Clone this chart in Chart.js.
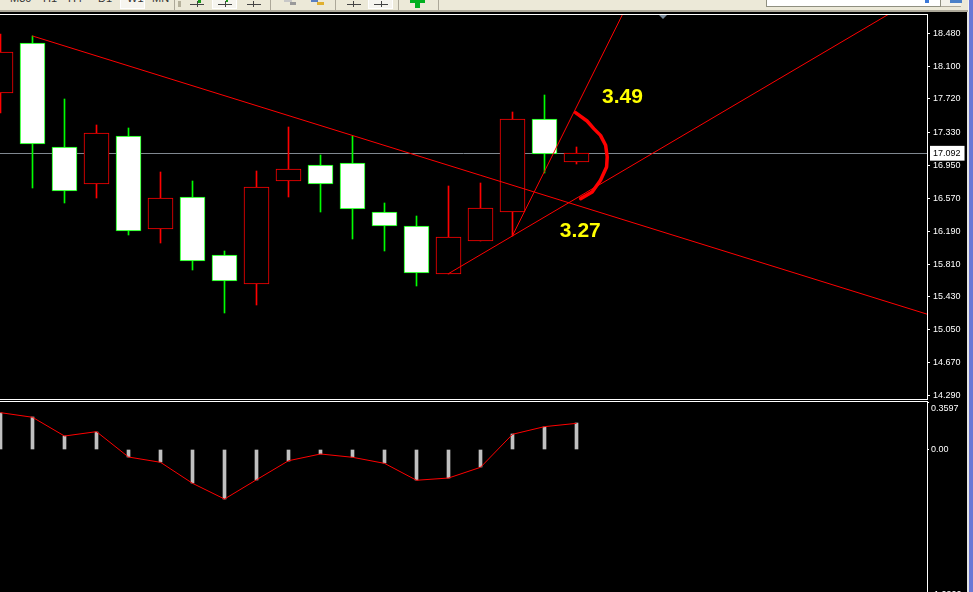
<!DOCTYPE html>
<html>
<head>
<meta charset="utf-8">
<title>Weekly chart</title>
<script src="https://cdn.jsdelivr.net/npm/chart.js@4"></script>
<style>
  html, body { margin: 0; padding: 0; width: 973px; height: 592px; overflow: hidden; background: #000; }
  canvas { position: absolute; left: 0; display: block; }
  #mainChart { top: 15px; }
  #macdChart { top: 402px; }
  .abs { position: absolute; }
  #toolbar { position: absolute; left: 0; top: 0; width: 968px; height: 10px; background: #ece9d8; overflow: hidden; font: 11px "Liberation Sans", sans-serif; color: #333; }
  #toolbarEdge { position: absolute; left: 0; top: 10px; width: 968px; height: 2px; background: #aca899; }
  #toolbar span { position: absolute; top: -8px; line-height: 12px; }
  .pressed { position: absolute; top: 0; height: 8px; background: #f6f5ef; border: 1px solid #fff; border-top: 0; }
  .sep { position: absolute; top: 0; width: 1px; height: 10px; background: #aca899; }
  .hline { position: absolute; top: 4px; width: 14px; height: 1px; background: #444; }
  .vtick { position: absolute; top: 1px; width: 1px; height: 6px; background: #444; }
</style>
</head>
<body>
<div id="toolbar">
  <span style="left:10px">M30</span><span style="left:43px">H1</span><span style="left:68px">H4</span>
  <span style="left:98px">D1</span><div class="pressed" style="left:120px;width:23px"></div><span style="left:127px">W1</span>
  <span style="left:152px">MN</span>
  <div class="sep" style="left:174px"></div>
  <div class="abs" style="left:178px;top:1px;width:3px;height:6px;background:#b5b19c"></div>
  <div class="hline" style="left:190px"></div><div class="vtick" style="left:197px"></div>
  <div class="abs" style="left:198px;top:0;width:3px;height:3px;background:#1a9a1a"></div>
  <div class="pressed" style="left:212px;width:23px"></div>
  <div class="hline" style="left:218px"></div><div class="vtick" style="left:225px"></div>
  <div class="abs" style="left:226px;top:0;width:2px;height:2px;background:#1a9a1a"></div>
  <div class="hline" style="left:247px"></div><div class="vtick" style="left:253px"></div>
  <div class="sep" style="left:270px"></div>
  <div class="abs" style="left:284px;top:0;width:8px;height:2px;background:#c8c8c8"></div>
  <div class="abs" style="left:290px;top:2px;width:6px;height:3px;background:#9a9a9a"></div>
  <div class="abs" style="left:311px;top:0;width:7px;height:2px;background:#5a7fc0"></div>
  <div class="abs" style="left:317px;top:2px;width:7px;height:3px;background:#e0b030"></div>
  <div class="sep" style="left:335px"></div>
  <div class="hline" style="left:347px"></div><div class="vtick" style="left:353px"></div>
  <div class="pressed" style="left:368px;width:23px"></div>
  <div class="hline" style="left:374px"></div><div class="vtick" style="left:381px"></div>
  <div class="sep" style="left:398px"></div>
  <div class="abs" style="left:410px;top:0;width:15px;height:3px;background:#00b020"></div>
  <div class="abs" style="left:415px;top:0;width:5px;height:8px;background:#00b020"></div>
  <div class="sep" style="left:438px"></div>
  <div class="abs" style="left:766px;top:0;width:173px;height:6px;background:#fff;border:1px solid #8f8f80;border-top:0"></div>
  <div class="abs" style="left:925px;top:0;width:4px;height:3px;background:#3b78d8"></div>
  <div class="abs" style="left:941px;top:0;width:20px;height:6px;background:#f3f2ea;border-bottom:1px solid #aca899"></div>
  <div class="abs" style="left:950px;top:0;width:12px;height:3px;background:#4a80c8"></div>
</div>
<div id="toolbarEdge"></div>
<div class="abs" style="left:967px;top:12px;width:2px;height:580px;background:#e4e4e4"></div>
<div class="abs" style="left:968px;top:0;width:1px;height:12px;background:#f4f4f4"></div>
<div class="abs" style="left:969px;top:0;width:4px;height:592px;background:#6a78d6"></div>
<canvas id="mainChart" width="973" height="384"></canvas>
<canvas id="macdChart" width="973" height="196"></canvas>
<div class="abs" style="left:0;top:14px;width:928px;height:1px;background:#fff"></div>
<div class="abs" style="left:0;top:399px;width:928px;height:1px;background:#fff"></div>
<div class="abs" style="left:0;top:401px;width:928px;height:1px;background:#fff"></div>
<div class="abs" style="left:659px;top:15px;width:0;height:0;border-left:4px solid transparent;border-right:4px solid transparent;border-top:4px solid #778899"></div>
<script>
// weekly candles
const candleIndex = [0, 1, 2, 3, 4, 5, 6, 7, 8, 9, 10, 11, 12, 13, 14, 15, 16, 17, 18];
const opens = [17.794, 18.361, 17.157, 16.740, 17.284, 16.220, 16.578, 15.907, 15.583, 16.775, 16.956, 16.979, 16.412, 16.250, 15.699, 16.081, 16.416, 17.481, 16.995];
const highs = [18.468, 18.449, 17.713, 17.412, 17.380, 16.868, 16.764, 15.953, 16.879, 17.389, 17.064, 17.288, 16.509, 16.358, 16.706, 16.740, 17.562, 17.762, 17.161];
const lows = [17.569, 16.701, 16.527, 16.585, 16.157, 16.064, 15.745, 15.254, 15.347, 16.597, 16.423, 16.111, 15.972, 15.567, 15.699, 16.081, 16.139, 16.871, 16.972];
const closes = [18.257, 17.203, 16.659, 17.319, 16.196, 16.567, 15.849, 15.618, 16.694, 16.909, 16.740, 16.451, 16.254, 15.710, 16.122, 16.451, 17.481, 17.088, 17.088];

const currentPrice = 17.092;
const priceTicks = [18.48, 18.10, 17.72, 17.33, 16.95, 16.57, 16.19, 15.81, 15.43, 15.05, 14.67, 14.29];

// trend lines and the hand drawn arc as [index, price]
const fallingLine = [[1, 18.449], [28.97, 15.228]];
const risingLine = [[14, 15.699], [27.75, 18.70]];
const steepLine = [[16, 16.139], [19.44, 18.70]];
const arcLine = [[17.97, 17.562], [18.33, 17.465], [18.54, 17.377], [18.75, 17.299], [18.91, 17.184], [18.96, 17.05], [18.94, 16.933], [18.75, 16.779], [18.49, 16.643], [18.13, 16.567]];

const noteTexts = ['3.49', '3.27'];
const noteIndex = [18.8, 17.48];
const notePrice = [17.673, 16.122];

// lower window
const macdValues = [0.279, 0.244, 0.102, 0.135, -0.057, -0.097, -0.256, -0.375, -0.229, -0.085, -0.034, -0.059, -0.105, -0.233, -0.216, -0.135, 0.115, 0.173, 0.198];
const macdTop = 0.3597;
const macdTicks = [0.3597, 0, -1.098];
const macdTickLabels = ['0.3597', '0.00', '-1.0900'];

const RED = '#ff0000';
const GREEN = '#00ff00';
const AXIS_FONT = { family: '"Liberation Sans", sans-serif', size: 9 };

const isUp = candleIndex.map(i => closes[i] > opens[i]);
const toPoints = line => line.map(p => ({ x: p[0], y: p[1] }));

function lineDataset(points, width) {
  return {
    type: 'line',
    data: toPoints(points),
    borderColor: RED,
    borderWidth: width,
    pointRadius: 0,
    tension: 0,
    borderJoinStyle: 'round',
    borderCapStyle: 'round',
    order: 1
  };
}

function fixAxisWidth(scale) {
  scale.width = 46;
  scale.paddingTop = 0;
  scale.paddingBottom = 0;
}

// x axis is in candle numbers, one candle = 32px, so the hidden range sets the spacing
const xAxis = { type: 'linear', display: false, offset: false, min: -0.0156, max: 28.953 };

// bars come out on fractions of a pixel and blur, the old terminal look needs them sharp
function snapBars(shift, grow) {
  return {
    id: 'snapBars',
    beforeDatasetsDraw(chart) {
      chart.getSortedVisibleDatasetMetas().forEach(meta => {
        if (meta.type !== 'bar') return;
        meta.data.forEach(bar => {
          const top = Math.min(bar.y, bar.base);
          const bottom = Math.max(bar.y, bar.base);
          bar.x = Math.floor(bar.x) + 0.5;
          bar.y = Math.round(top - shift);
          bar.base = Math.round(bottom - shift) + grow;
        });
      });
    }
  };
}

const notesPlugin = {
  id: 'notes',
  afterDatasetsDraw(chart) {
    const ctx = chart.ctx;
    ctx.save();
    ctx.fillStyle = '#ffff00';
    ctx.font = 'bold 21px "Liberation Sans", sans-serif';
    ctx.textAlign = 'left';
    ctx.textBaseline = 'alphabetic';
    noteTexts.forEach((t, i) => {
      ctx.fillText(t, chart.scales.x.getPixelForValue(noteIndex[i]), chart.scales.y.getPixelForValue(notePrice[i]));
    });
    ctx.restore();
  }
};

new Chart(document.getElementById('mainChart'), {
  type: 'bar',
  plugins: [snapBars(0.35, 1), notesPlugin],
  data: {
    datasets: [
      {
        data: candleIndex.map(i => ({ x: i, y: [lows[i], highs[i]] })),
        backgroundColor: isUp.map(up => up ? RED : GREEN),
        barThickness: 1,
        grouped: false,
        order: 3
      },
      {
        data: candleIndex.map(i => ({ x: i, y: [Math.min(opens[i], closes[i]), Math.max(opens[i], closes[i])] })),
        backgroundColor: isUp.map(up => up ? '#000000' : '#ffffff'),
        borderColor: isUp.map(up => up ? RED : GREEN),
        borderWidth: 1,
        borderSkipped: false,
        barThickness: 25,
        grouped: false,
        order: 2
      },
      lineDataset(fallingLine, 1),
      lineDataset(risingLine, 1),
      lineDataset(steepLine, 1),
      lineDataset(arcLine, 3.5)
    ]
  },
  options: {
    responsive: false,
    animation: false,
    events: [],
    layout: { padding: 0 },
    plugins: { legend: { display: false }, tooltip: { enabled: false } },
    scales: {
      x: xAxis,
      y: {
        position: 'right',
        min: 14.248,
        max: 18.692,
        afterFit: fixAxisWidth,
        afterBuildTicks(scale) {
          scale.ticks = priceTicks.concat(currentPrice).map(v => ({ value: v }));
        },
        border: { color: '#ffffff', width: 1 },
        grid: {
          color: c => c.tick && c.tick.value === currentPrice ? '#808890' : 'rgba(0,0,0,0)',
          tickColor: c => c.tick && c.tick.value === currentPrice ? 'rgba(0,0,0,0)' : '#ffffff',
          tickLength: 3
        },
        ticks: {
          color: c => c.tick && c.tick.value === currentPrice ? '#000000' : '#ffffff',
          font: AXIS_FONT,
          padding: 3,
          autoSkip: false,
          callback: v => v.toFixed(3),
          showLabelBackdrop: c => c.tick && c.tick.value === currentPrice,
          backdropColor: '#ffffff',
          backdropPadding: { left: 3, right: 4, top: 2, bottom: 2 }
        }
      }
    }
  }
});

// 0.3597 sits just under the top of the window, not on its tick
const macdTopLabel = {
  id: 'macdTopLabel',
  afterDraw(chart) {
    const ctx = chart.ctx;
    ctx.save();
    ctx.fillStyle = '#ffffff';
    ctx.font = '9px "Liberation Sans", sans-serif';
    ctx.textBaseline = 'middle';
    ctx.fillText(macdTickLabels[0], 931, chart.scales.y.getPixelForValue(macdTop) + 7);
    ctx.restore();
  }
};

new Chart(document.getElementById('macdChart'), {
  type: 'bar',
  plugins: [snapBars(0, 0), macdTopLabel],
  data: {
    datasets: [
      {
        data: candleIndex.map(i => ({ x: i, y: macdValues[i] })),
        backgroundColor: '#c0c0c0',
        barThickness: 3,
        order: 2
      },
      {
        type: 'line',
        data: candleIndex.map(i => ({ x: i, y: macdValues[i] })),
        borderColor: RED,
        borderWidth: 1,
        pointRadius: 0,
        tension: 0,
        order: 1
      }
    ]
  },
  options: {
    responsive: false,
    animation: false,
    events: [],
    layout: { padding: 0 },
    plugins: { legend: { display: false }, tooltip: { enabled: false } },
    scales: {
      x: xAxis,
      y: {
        position: 'right',
        min: -1.1246,
        max: macdTop,
        afterFit: fixAxisWidth,
        afterBuildTicks(scale) {
          scale.ticks = macdTicks.map(v => ({ value: v }));
        },
        border: { color: '#ffffff', width: 1 },
        grid: { drawOnChartArea: false, color: '#ffffff', tickLength: 2 },
        ticks: {
          color: '#ffffff',
          font: AXIS_FONT,
          padding: 2,
          autoSkip: false,
          callback: v => v === macdTop ? '' : macdTickLabels[macdTicks.indexOf(v)]
        }
      }
    }
  }
});
</script>
</body>
</html>
